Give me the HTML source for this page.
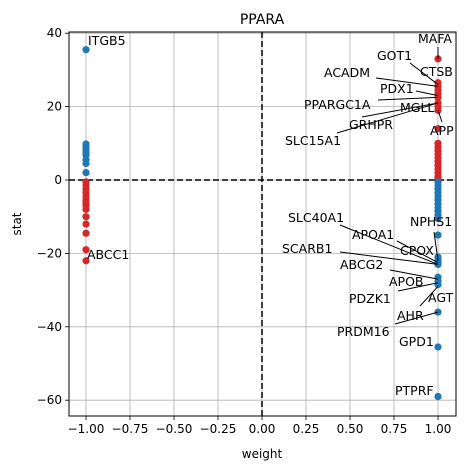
<!DOCTYPE html>
<html><head><meta charset="utf-8"><style>
body{margin:0;background:#fff}
svg text{font-family:"DejaVu Sans","Liberation Sans",sans-serif}
</style></head><body>
<svg id="c" width="466" height="470" xmlns="http://www.w3.org/2000/svg"></svg>
<script>
const leftBlue=[35.5,9.8,9,8.3,7.5,6.8,5.5,4.5,2];
const leftRed=[-0.5,-1.5,-2.5,-3.5,-4.5,-5.5,-6.2,-7,-8,-10,-12,-14.5,-19,-22];
const rightRed=[33,26.5,25.5,24.5,23.5,22.5,21,20,19,14,10,9,8,7,6,5,4,3,2,1,0.5];
const rightBlue=[-0.5,-1.5,-2.5,-3.5,-4.5,-5.5,-6.5,-7.5,-8.5,-9.5,-10.5,-15,-21,-21.8,-22.5,-23,-26.5,-27.5,-28.5,-36,-45.5,-59];
const xTicks=[-1,-0.75,-0.5,-0.25,0,0.25,0.5,0.75,1];
const xTickLabels=["−1.00","−0.75","−0.50","−0.25","0.00","0.25","0.50","0.75","1.00"];
const yTicks=[-60,-40,-20,0,20,40];
const yTickLabels=["−60","−40","−20","0","20","40"];
// gene, x, y, label x(px), label y(px), line start x(px), line start y(px)
const annots=[
["ITGB5",-1,35.5,88,41,null,null],["ABCC1",-1,-22,87,255,null,null],
["MAFA",1,33,418,39,438,47],["GOT1",1,26,377,56,410,63],["ACADM",1,25.5,324,73,376,78],
["CTSB",1,24.5,420,72,null,null],["PDX1",1,23,380,89,416,91],["PPARGC1A",1,22.5,304,105,378,100],
["MGLL",1,22,400,108,null,null],["GRHPR",1,21,349,125,362,117],["APP",1,19,430,131,442,122],
["SLC15A1",1,21,285,141,337,133],["SLC40A1",1,-23,288,218,340,225],["NPHS1",1,-22,410,222,434,232],
["APOA1",1,-22.5,352,235,397,241],["CPOX",1,-22,400,251,null,null],["SCARB1",1,-23,282,249,340,252],
["ABCG2",1,-27,340,265,390,270],["APOB",1,-27,389,282,null,null],["PDZK1",1,-28,349,299,398,291],
["AGT",1,-29,428,298,420,306],["AHR",1,-36,397,316,null,null],["PRDM16",1,-36,337,332,395,324],
["GPD1",1,-45.5,399,342,null,null],["PTPRF",1,-59,395,391,null,null]];
const X0=69,X1=456,Y0=32,Y1=416;
const xs=v=>262+v*176, ys=v=>180-v*3.67;
const S=document.getElementById('c');const NS='http://www.w3.org/2000/svg';
function mk(t,a,p){const e=document.createElementNS(NS,t);for(const k in a)e.setAttribute(k,a[k]);(p||S).appendChild(e);return e;}
xTicks.forEach((t,i)=>{const x=xs(t);
 const g=mk('line',{x1:x,x2:x,y1:Y0,y2:Y1,stroke:'#b0b0b0','stroke-width':0.8});
 
 mk('line',{x1:x,x2:x,y1:Y1,y2:Y1+4,stroke:'#000','stroke-width':0.8});
 const l=mk('text',{x:x,y:Y1+17,'font-size':12,'text-anchor':'middle'});l.textContent=xTickLabels[i];
 });
yTicks.forEach((t,i)=>{const y=ys(t);
 const g=mk('line',{x1:X0,x2:X1,y1:y,y2:y,stroke:'#b0b0b0','stroke-width':0.8});
 
 mk('line',{x1:X0-4,x2:X0,y1:y,y2:y,stroke:'#000','stroke-width':0.8});
 const l=mk('text',{x:X0-7,y:y+4,'font-size':12,'text-anchor':'end'});l.textContent=yTickLabels[i];
 });
let h=mk('line',{x1:X0,x2:X1,y1:ys(0),y2:ys(0),stroke:'#000','stroke-width':1.5,'stroke-dasharray':'6,3'});

let v=mk('line',{x1:xs(0),x2:xs(0),y1:Y0,y2:Y1,stroke:'#000','stroke-width':1.5,'stroke-dasharray':'6,3'});

function pts(arr,xv,col){arr.forEach(y=>{const c=mk('circle',{cx:xs(xv),cy:ys(y),r:3.6,fill:col});
 });}
pts(leftBlue,-1,'#1f77b4');pts(leftRed,-1,'#d62728');pts(rightRed,1,'#d62728');pts(rightBlue,1,'#1f77b4');
annots.forEach(a=>{
 if(a[5]!==null){const l=mk('line',{x1:a[5],y1:a[6],x2:xs(a[1]),y2:ys(a[2]),stroke:'#000','stroke-width':1});
  }
 const t=mk('text',{x:a[3],y:a[4]+4,'font-size':12.5});t.textContent=a[0];
 });
const fr=mk('rect',{x:X0,y:Y0,width:X1-X0,height:Y1-Y0,fill:'none',stroke:'#000','stroke-width':1});

const ti=mk('text',{x:262,y:24,'font-size':14,'text-anchor':'middle'});ti.textContent='PPARA';

const xl=mk('text',{x:262,y:458,'font-size':12,'text-anchor':'middle'});xl.textContent='weight';

const yl=mk('text',{x:21,y:224,'font-size':12,'text-anchor':'middle',transform:'rotate(-90 21 224)'});yl.textContent='stat';

</script>
</body></html>
